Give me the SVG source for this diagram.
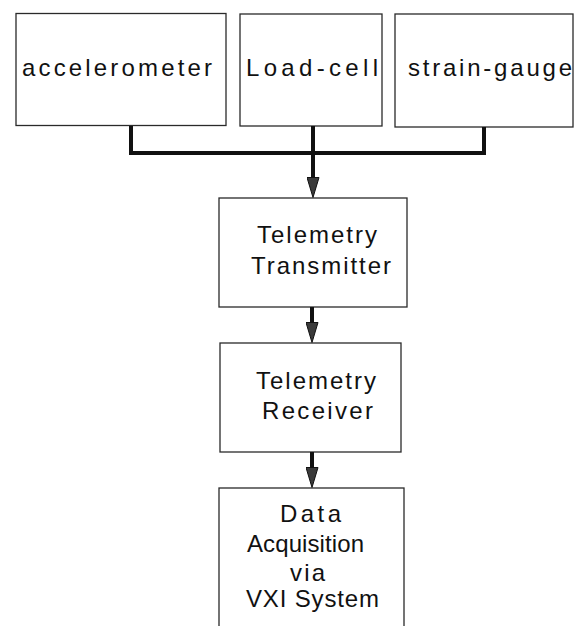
<svg xmlns="http://www.w3.org/2000/svg" width="582" height="626" viewBox="0 0 582 626">
<style>
.box{fill:#fff;stroke:#2a2a2a;stroke-width:1.3}
.t{font-family:"Liberation Sans",Arial,sans-serif;font-size:24px;fill:#111}
.wire{fill:none;stroke:#111;stroke-width:4}
.arr{fill:none;stroke:#111;stroke-width:4;marker-end:url(#head)}
</style>
<defs>
<marker id="head" viewBox="0 0 21 13" refX="0" refY="6.5" markerWidth="21" markerHeight="13" markerUnits="userSpaceOnUse" orient="auto">
<path d="M0.5,0.5 L20.5,6.5 L0.5,12.5 z" fill="#3a3a3a" stroke="#111" stroke-width="1"/>
</marker>
</defs>
<rect width="582" height="626" fill="#fff"/>
<g id="accelerometer">
<rect class="box" x="16" y="13.5" width="210" height="112"/>
<text class="t" x="22" y="76" textLength="190" lengthAdjust="spacing">accelerometer</text>
</g>
<g id="load-cell">
<rect class="box" x="240" y="14" width="142" height="112"/>
<text class="t" x="246" y="76" textLength="132" lengthAdjust="spacing">Load-cell</text>
</g>
<g id="strain-gauge">
<rect class="box" x="395" y="14" width="178" height="113"/>
<text class="t" x="408" y="76" textLength="164" lengthAdjust="spacing">strain-gauge</text>
</g>
<g id="transmitter">
<rect class="box" x="219" y="198" width="188" height="109"/>
<text class="t" x="257" y="243" textLength="120" lengthAdjust="spacing">Telemetry</text>
<text class="t" x="251" y="274" textLength="140" lengthAdjust="spacing">Transmitter</text>
</g>
<g id="receiver">
<rect class="box" x="220" y="343" width="181" height="109"/>
<text class="t" x="256" y="389" textLength="120" lengthAdjust="spacing">Telemetry</text>
<text class="t" x="262" y="419" textLength="111" lengthAdjust="spacing">Receiver</text>
</g>
<g id="daq">
<rect class="box" x="219" y="488" width="185" height="150"/>
<text class="t" x="280" y="522" textLength="61" lengthAdjust="spacing">Data</text>
<text class="t" x="247" y="552" textLength="117" lengthAdjust="spacing">Acquisition</text>
<text class="t" x="290" y="581" textLength="35" lengthAdjust="spacing">via</text>
<text class="t" x="246" y="607" textLength="133" lengthAdjust="spacing">VXI System</text>
</g>
<g id="connectors">
<path class="wire" d="M131,126 V153 H484 V127"/>
<path class="arr" d="M313,126 V177"/>
<path class="arr" d="M312,307 V322"/>
<path class="arr" d="M312,452 V467"/>
</g>
</svg>
